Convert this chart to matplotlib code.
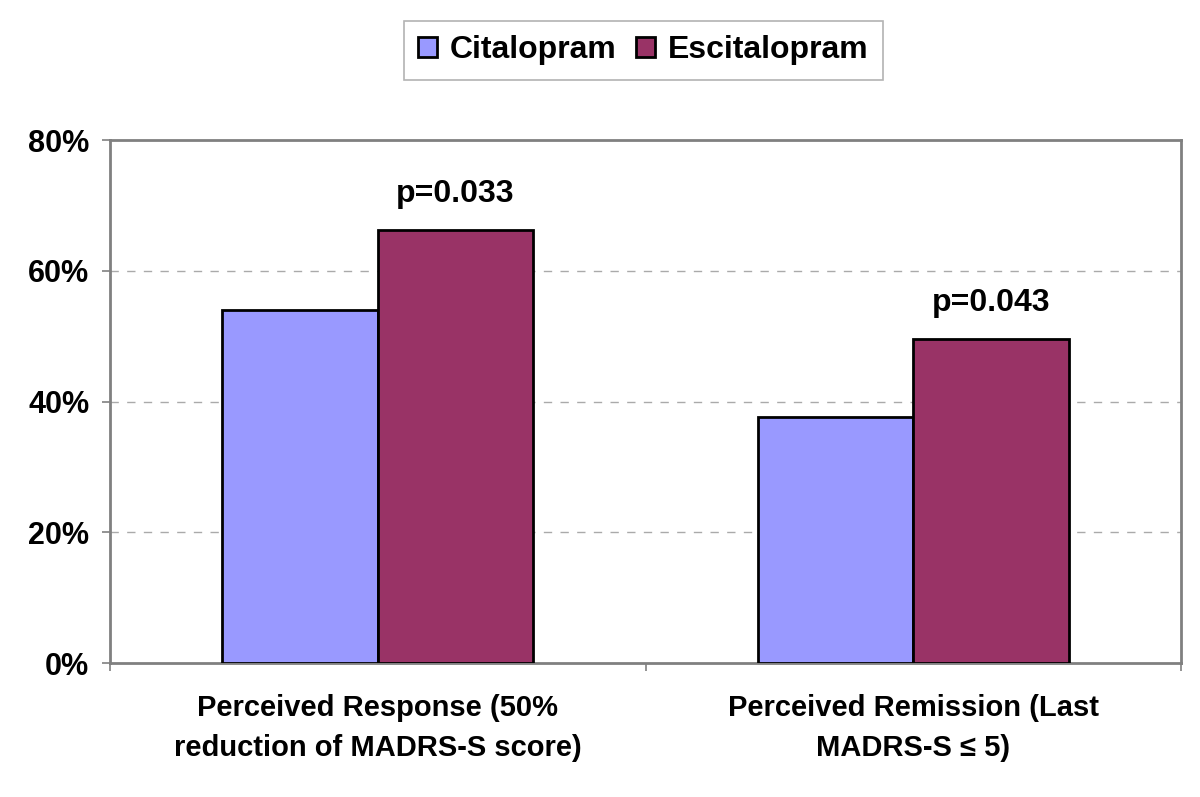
import numpy as np
import matplotlib.pyplot as plt

# datos
categorias = ["Perceived Response (50%\nreduction of MADRS-S score)",
              "Perceived Remission (Last\nMADRS-S \u2264 5)"]
citalopram = [54.0, 37.7]
escitalopram = [66.3, 49.6]
p_valores = ["p=0.033", "p=0.043"]

plt.rcParams['font.family'] = ['Liberation Sans', 'DejaVu Sans']
plt.rcParams['font.weight'] = 'bold'

fig = plt.figure(figsize=(12, 7.97), dpi=100)
ax = fig.add_axes([0.0917, 0.168, 0.8925, 0.6563])

x = np.arange(len(categorias))
ancho = 0.29
b1 = ax.bar(x - ancho/2, citalopram, ancho, color="#9999FF", edgecolor="black",
            linewidth=2, label="Citalopram", zorder=3)
b2 = ax.bar(x + ancho/2, escitalopram, ancho, color="#993366", edgecolor="black",
            linewidth=2, label="Escitalopram", zorder=3)

# etiquetas de p sobre las barras de escitalopram
for xi, v, p in zip(x, escitalopram, p_valores):
    ax.annotate(p, (xi + ancho/2, v), xytext=(0, 15), textcoords="offset points",
                ha="center", va="bottom", fontsize=23, fontweight="bold")

ax.set_xlim(-0.5, 1.5)
ax.set_ylim(0, 80)
ax.set_yticks([0, 20, 40, 60, 80])
ax.set_yticklabels(["0%", "20%", "40%", "60%", "80%"], fontsize=22, fontweight="bold")
ax.set_xticks(x)
ax.set_xticklabels(categorias, fontsize=21, fontweight="bold", linespacing=1.55)
ax.tick_params(axis="x", length=0, pad=22)
ax.tick_params(axis="y", length=6, color="#808080", width=1.2, pad=9)
ax.set_xticks([-0.5, 0.5, 1.5], minor=True)
ax.tick_params(axis="x", which="minor", length=6, color="#808080", width=1.2)

for s in ax.spines.values():
    s.set_color("#808080")
    s.set_linewidth(2)

for yv in [20, 40, 60]:
    ax.axhline(yv, color="#AAAAAA", linestyle=(0, (6, 6)), linewidth=1, zorder=1)

leg = fig.legend(loc="center", bbox_to_anchor=(0.536, 0.937), ncol=2, fontsize=23,
                 frameon=True, fancybox=False, edgecolor="#A0A0A0",
                 handlelength=0.6, handleheight=0.6, handletextpad=0.4,
                 columnspacing=0.6, borderpad=0.45)
leg.get_frame().set_linewidth(1.2)

fig.savefig("out.png", dpi=100)
